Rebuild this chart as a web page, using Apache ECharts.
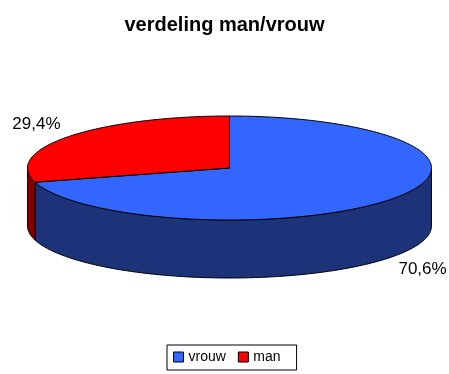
<!DOCTYPE html>
<html>
<head>
<meta charset="utf-8">
<script src="https://cdn.jsdelivr.net/npm/echarts@6/dist/echarts.min.js"></script>
<style>
  html, body { margin: 0; padding: 0; background: #fff; }
  #chart { width: 449px; height: 374px; }
</style>
</head>
<body>
<div id="chart"></div>
<script>
// Share of women and men (percent)
const categories = ['vrouw', 'man'];
const shares = [70.6, 29.4];
const shareLabels = ['70,6%', '29,4%'];

// Face colours per slice: top face and darker wall
const palette = {
  top: ['#3366FF', '#FF0000'],
  side: ['#1C337A', '#800000']
};

// Tilted disc geometry
const disc = { cx: 229.5, cy: 168, rx: 202, ry: 52, depth: 58 };

const total = shares.reduce((a, b) => a + b, 0);

function pt(deg, dy) {
  const r = deg * Math.PI / 180;
  return [disc.cx + disc.rx * Math.cos(r), disc.cy - disc.ry * Math.sin(r) + (dy || 0)];
}

function arcPoints(from, to, dy) {
  const pts = [];
  const n = Math.max(2, Math.ceil(Math.abs(to - from)));
  for (let i = 0; i <= n; i++) pts.push(pt(from + (to - from) * i / n, dy));
  return pts;
}

function renderSlice(params, api) {
  const idx = params.seriesIndex;
  const value = api.value(0);
  let before = 0;
  for (let i = 0; i < idx; i++) before += shares[i];
  // slices run clockwise from 12 o'clock
  const a0 = 90 - 360 * before / total;
  const a1 = a0 - 360 * value / total;
  const lo = Math.min(a0, a1), hi = Math.max(a0, a1);
  const children = [];

  // visible front wall: angles where the rim faces the viewer
  for (let k = -2; k <= 1; k++) {
    const f0 = Math.max(lo, 180 + 360 * k);
    const f1 = Math.min(hi, 360 + 360 * k);
    if (f1 > f0) {
      const pts = arcPoints(f0, f1, 0).concat(arcPoints(f1, f0, disc.depth));
      children.push({
        type: 'polygon', z2: 1,
        shape: { points: pts },
        style: { fill: palette.side[idx], stroke: '#000', lineWidth: 1 }
      });
    }
  }

  // top face
  const topPts = [[disc.cx, disc.cy]].concat(arcPoints(a0, a1, 0));
  children.push({
    type: 'polygon', z2: 2,
    shape: { points: topPts },
    style: { fill: palette.top[idx], stroke: '#000', lineWidth: 1 }
  });

  // percentage label outside the rim
  const mid = (a0 + a1) / 2;
  const mr = mid * Math.PI / 180;
  const s = Math.sin(mr);
  const lx = disc.cx + (disc.rx + 40) * Math.cos(mr);
  const ly = disc.cy - (disc.ry + 20) * s + (s < 0 ? disc.depth : 0);
  children.push({
    type: 'text', z2: 3,
    style: {
      x: lx, y: ly, text: shareLabels[idx],
      align: 'center', verticalAlign: 'middle',
      fill: '#000', font: '17px "Liberation Sans", Arial, sans-serif'
    }
  });

  return { type: 'group', children: children };
}

const chart = echarts.init(document.getElementById('chart'), null, { renderer: 'canvas' });
chart.setOption({
  backgroundColor: '#fff',
  animation: false,
  title: {
    text: 'verdeling man/vrouw',
    left: 'center',
    top: 10,
    textStyle: {
      fontFamily: '"Liberation Sans", Arial, sans-serif',
      fontSize: 20, fontWeight: 'bold', color: '#000'
    }
  },
  legend: {
    data: categories,
    top: 345,
    left: 167,
    icon: 'rect',
    itemWidth: 10,
    itemHeight: 10,
    itemGap: 12,
    padding: [5, 16, 6, 6],
    borderColor: '#000',
    borderWidth: 1,
    borderRadius: 0,
    selectedMode: false,
    itemStyle: { borderColor: '#000', borderWidth: 1 },
    textStyle: {
      fontFamily: '"Liberation Sans", Arial, sans-serif',
      fontSize: 14, color: '#000'
    }
  },
  series: categories.map((name, i) => ({
    type: 'custom',
    name: name,
    coordinateSystem: 'none',
    itemStyle: { color: palette.top[i], borderColor: '#000', borderWidth: 1 },
    data: [[shares[i]]],
    renderItem: renderSlice
  }))
});
</script>
</body>
</html>
